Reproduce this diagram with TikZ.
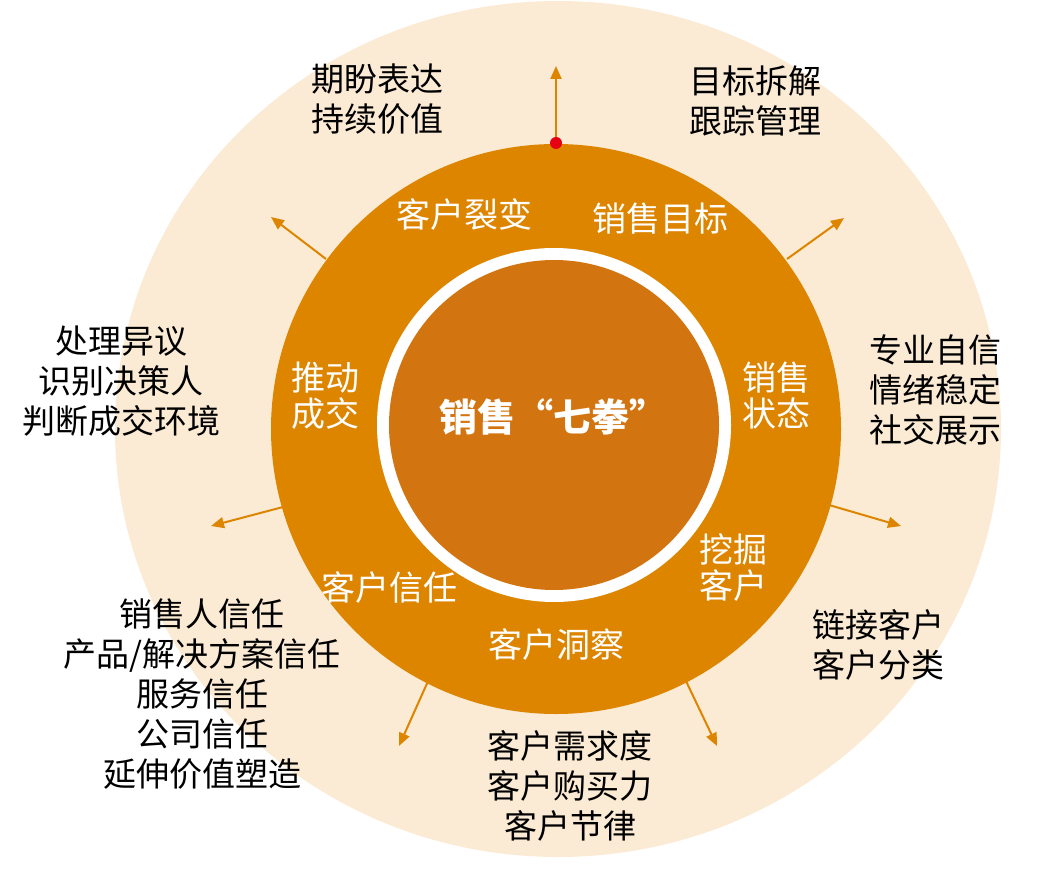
\documentclass[tikz,border=0pt]{standalone}
\usepackage{fontspec}
\usetikzlibrary{arrows.meta}
\newfontfamily\cjk{Noto Sans CJK SC}
\definecolor{beige}{HTML}{FBEBD5}
\definecolor{ring}{HTML}{DE8500}
\definecolor{core}{HTML}{D27410}
\definecolor{dotred}{HTML}{E60012}
\tikzset{
  outtxt/.style={text=black,align=center,font=\cjk\fontsize{33}{40}\selectfont,inner sep=0pt},
  intxt/.style={text=white,align=center,font=\cjk\fontsize{34}{36}\selectfont,inner sep=0pt},
  ray/.style={draw=ring,line width=2pt,-{Triangle[length=13pt,width=11pt]}}
}
\begin{document}
\begin{tikzpicture}[x=1pt,y=-1pt]
\useasboundingbox (0,0) rectangle (1038,877);
% discs
\fill[beige] (558,429) ellipse [x radius=443pt, y radius=428pt];
\fill[ring] (556,429) circle [radius=285pt];
\fill[white] (554,425) circle [radius=177pt];
\fill[core] (554,425) circle [radius=165pt];
% center
\node[text=white,font=\cjk\bfseries\fontsize{38}{40}\selectfont,inner sep=0pt] (title) at (553,417) {销售{\addfontfeature{CharacterWidth=Full}“}七拳{\addfontfeature{CharacterWidth=Full}”}};
% inner labels
\node[intxt] (l1) at (464,215) {客户裂变};
\node[intxt] (l2) at (660,219) {销售目标};
\node[intxt] (l3) at (776,396) {销售\\状态};
\node[intxt] (l4) at (733,568) {挖掘\\客户};
\node[intxt] (l5) at (556,645) {客户洞察};
\node[intxt] (l6) at (389,588) {客户信任};
\node[intxt] (l7) at (325,396) {推动\\成交};
% outer labels
\node[outtxt] (o1) at (377,99) {期盼表达\\持续价值};
\node[outtxt] (o2) at (755,101) {目标拆解\\跟踪管理};
\node[outtxt] (o3) at (935,390) {专业自信\\情绪稳定\\社交展示};
\node[outtxt] (o4) at (878,645) {链接客户\\客户分类};
\node[outtxt] (o5) at (570,786) {客户需求度\\客户购买力\\客户节律};
\node[outtxt] (o6) at (202,694) {销售人信任\\产品/解决方案信任\\服务信任\\公司信任\\延伸价值塑造};
\node[outtxt] (o7) at (121,381) {处理异议\\识别决策人\\判断成交环境};
% connector coordinates
\coordinate (s1) at (556,143);  \coordinate (e1) at (556,66);
\coordinate (s2) at (326,259);  \coordinate (e2) at (271,217);
\coordinate (s3) at (787,259);  \coordinate (e3) at (844,218);
\coordinate (s4) at (283,507);  \coordinate (e4) at (211,526);
\coordinate (s5) at (829,505);  \coordinate (e5) at (901,526);
\coordinate (s6) at (429,679);  \coordinate (e6) at (399,746);
\coordinate (s7) at (685,679);  \coordinate (e7) at (717,746);
\foreach \i in {1,...,7}{\draw[ray] (s\i) -- (e\i);}
\fill[dotred] (s1) circle [radius=6pt];
\end{tikzpicture}
\end{document}
